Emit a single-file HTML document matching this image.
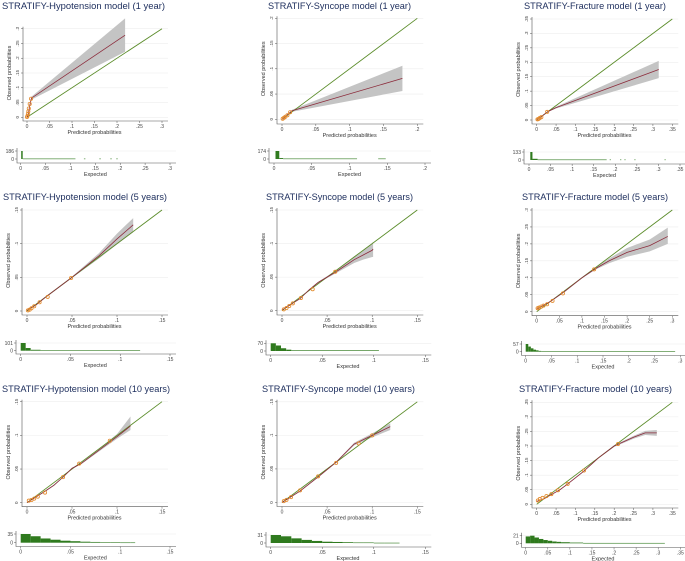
<!DOCTYPE html>
<html><head><meta charset="utf-8">
<style>
html,body{margin:0;padding:0;background:#fff;}
svg{display:block;font-family:"Liberation Sans",sans-serif;}
</style></head>
<body>
<svg id="fig" width="685" height="561" viewBox="0 0 685 561" xmlns="http://www.w3.org/2000/svg"></svg>
<script>
// ---------- DATA ----------
// Panel 1: Hypotension 1 year
const p1ObsX=[0,0.003,0.006,0.01,0.218];
const p1ObsY=[0,0.01,0.04,0.065,0.278];
const p1CiLo=[0,0.008,0.036,0.06,0.222];
const p1CiHi=[0,0.012,0.044,0.07,0.335];
const p1PtX=[0,0.001,0.002,0.003,0.004,0.006,0.009];
const p1PtY=[0.001,0.005,0.012,0.02,0.03,0.045,0.063];
const p1HistStart=[0.001,0.004,0.127,0.158,0.18,0.192];
const p1HistEnd=[0.004,0.11,0.13,0.161,0.183,0.195];
const p1HistCount=[186,10,10,10,10,10];
// Panel 2: Syncope 1 year
const p2ObsX=[0,0.015,0.178];
const p2ObsY=[0,0.017,0.081];
const p2CiLo=[0,0.015,0.056];
const p2CiHi=[0,0.019,0.106];
const p2PtX=[0.001,0.003,0.005,0.008,0.012];
const p2PtY=[0.001,0.003,0.005,0.008,0.014];
const p2HistStart=[0.002,0.007,0.012,0.138];
const p2HistEnd=[0.007,0.012,0.11,0.148];
const p2HistCount=[174,20,10,10];
// Panel 3: Fracture 1 year
const p3ObsX=[0,0.03,0.05,0.315];
const p3ObsY=[0,0.03,0.043,0.175];
const p3CiLo=[0,0.028,0.04,0.145];
const p3CiHi=[0,0.032,0.046,0.205];
const p3PtX=[0.002,0.005,0.008,0.012,0.027];
const p3PtY=[0.002,0.004,0.007,0.01,0.028];
const p3HistStart=[0.003,0.008,0.02,0.187,0.211,0.221,0.244,0.314];
const p3HistEnd=[0.008,0.02,0.18,0.19,0.214,0.224,0.247,0.317];
const p3HistCount=[133,20,8,8,8,8,8,8];
// Panel 4: Hypotension 5 years
const p4ObsX=[0,0.01,0.02,0.05,0.08,0.1,0.118];
const p4ObsY=[0.001,0.009,0.02,0.05,0.082,0.107,0.128];
const p4CiLo=[0.001,0.008,0.019,0.049,0.078,0.099,0.117];
const p4CiHi=[0.001,0.01,0.021,0.051,0.086,0.115,0.138];
const p4PtX=[0.001,0.003,0.005,0.008,0.014,0.023,0.049];
const p4PtY=[0.001,0.002,0.004,0.007,0.013,0.021,0.049];
const p4HistStart=[0,0.005,0.01,0.02];
const p4HistEnd=[0.005,0.01,0.02,0.12];
const p4HistCount=[101,35,12,6];
// Panel 5: Syncope 5 years
const p5ObsX=[0,0.02,0.03,0.04,0.06,0.08,0.09,0.1,0.101];
const p5ObsY=[0.001,0.018,0.031,0.042,0.058,0.076,0.083,0.09,0.092];
const p5CiLo=[0.001,0.017,0.03,0.041,0.056,0.071,0.076,0.08,0.08];
const p5CiHi=[0.001,0.019,0.032,0.043,0.06,0.081,0.09,0.1,0.103];
const p5PtX=[0.002,0.005,0.008,0.012,0.021,0.034,0.059];
const p5PtY=[0.002,0.004,0.007,0.011,0.019,0.032,0.058];
const p5HistStart=[0,0.005,0.01,0.015,0.02];
const p5HistEnd=[0.005,0.01,0.015,0.02,0.105];
const p5HistCount=[70,50,25,12,6];
// Panel 6: Fracture 5 years
const p6ObsX=[0,0.03,0.06,0.1,0.13,0.16,0.2,0.25,0.29];
const p6ObsY=[0.008,0.03,0.058,0.1,0.127,0.15,0.175,0.195,0.222];
const p6CiLo=[0.007,0.029,0.056,0.098,0.124,0.143,0.162,0.178,0.2];
const p6CiHi=[0.009,0.031,0.06,0.102,0.13,0.157,0.188,0.213,0.248];
const p6PtX=[0.002,0.005,0.01,0.015,0.023,0.035,0.058,0.127];
const p6PtY=[0.01,0.012,0.015,0.018,0.022,0.032,0.054,0.125];
const p6HistStart=[0,0.005,0.01,0.015,0.02,0.025,0.03];
const p6HistEnd=[0.005,0.01,0.015,0.02,0.025,0.03,0.29];
const p6HistCount=[57,38,25,15,10,6,3];
// Panel 7: Hypotension 10 years
const p7ObsX=[0,0.02,0.03,0.04,0.05,0.06,0.08,0.1,0.115];
const p7ObsY=[0,0.017,0.026,0.038,0.051,0.058,0.078,0.098,0.114];
const p7CiLo=[0,0.016,0.025,0.037,0.05,0.057,0.076,0.095,0.108];
const p7CiHi=[0,0.018,0.027,0.039,0.052,0.059,0.08,0.102,0.128];
const p7PtX=[0.002,0.005,0.008,0.012,0.02,0.04,0.058,0.092];
const p7PtY=[0.003,0.004,0.006,0.009,0.015,0.038,0.058,0.092];
const p7HistStart=[0,0.01,0.02,0.03,0.04,0.05,0.06,0.07,0.08,0.09,0.1,0.11];
const p7HistEnd=[0.01,0.02,0.03,0.04,0.05,0.06,0.07,0.08,0.09,0.1,0.11,0.115];
const p7HistCount=[35,26,17,12,8,6,4,3,2,2,1,1];
// Panel 8: Syncope 10 years
const p8ObsX=[0,0.02,0.04,0.06,0.08,0.1,0.12];
const p8ObsY=[0,0.017,0.038,0.06,0.087,0.1,0.113];
const p8CiLo=[0,0.016,0.037,0.059,0.085,0.097,0.108];
const p8CiHi=[0,0.018,0.039,0.061,0.089,0.103,0.118];
const p8PtX=[0.002,0.005,0.01,0.02,0.04,0.06,0.085,0.1];
const p8PtY=[0.002,0.004,0.008,0.018,0.039,0.059,0.088,0.1];
const p8HistStart=[0,0.01,0.02,0.03,0.04,0.05,0.06,0.07,0.08,0.09,0.1,0.11];
const p8HistEnd=[0.01,0.02,0.03,0.04,0.05,0.06,0.07,0.08,0.09,0.1,0.11,0.125];
const p8HistCount=[31,26,18,12,8,5,4,3,2,2,1,1];
// Panel 9: Fracture 10 years
const p9ObsX=[0,0.02,0.04,0.06,0.08,0.12,0.16,0.2,0.25,0.28,0.31];
const p9ObsY=[0.01,0.02,0.035,0.05,0.07,0.112,0.16,0.2,0.23,0.245,0.245];
const p9CiLo=[0.009,0.019,0.034,0.049,0.068,0.11,0.158,0.197,0.225,0.238,0.235];
const p9CiHi=[0.011,0.021,0.036,0.051,0.072,0.114,0.162,0.203,0.235,0.252,0.255];
const p9PtX=[0.003,0.008,0.015,0.025,0.038,0.055,0.08,0.122,0.21];
const p9PtY=[0.013,0.018,0.022,0.028,0.035,0.048,0.07,0.116,0.207];
const p9HistStart=[0,0.01,0.02,0.03,0.04,0.05,0.06,0.07,0.08,0.1,0.13];
const p9HistEnd=[0.01,0.02,0.03,0.04,0.05,0.06,0.07,0.08,0.1,0.13,0.315];
const p9HistCount=[19,21,16,12,9,7,5,4,3,2,1];

const titles=["STRATIFY-Hypotension model (1 year)","STRATIFY-Syncope model (1 year)","STRATIFY-Fracture model (1 year)",
"STRATIFY-Hypotension model (5 years)","STRATIFY-Syncope model (5 years)","STRATIFY-Fracture model (5 years)",
"STRATIFY-Hypotension model (10 years)","STRATIFY-Syncope model (10 years)","STRATIFY-Fracture model (10 years)"];
const axisMax=[0.3,0.2,0.35,0.15,0.15,0.3,0.15,0.15,0.35];
const histMaxLabel=[186,174,133,101,70,57,35,31,21];

// ---------- LAYOUT (pixels) ----------
const G=[
{x0:27,x1:162,y0:117.3,y1:28.7,yax:23,xax:121,hx0:20.7,hx1:170,hb:159,ht:151,hyax:17,hax:163,tx:2,tw:163,ty:9},
{x0:282,x1:417.3,y0:119.3,y1:18.3,yax:277,xax:124,hx0:274,hx1:425,hb:159,ht:151,hyax:269,hax:163,tx:268,tw:143,ty:9},
{x0:536.7,x1:672.3,y0:120,y1:19,yax:532,xax:124,hx0:529,hx1:680,hb:160,ht:152,hyax:524,hax:164,tx:524,tw:142,ty:9},
{x0:27,x1:162,y0:311,y1:210,yax:22,xax:315,hx0:20.7,hx1:170,hb:350.7,ht:343,hyax:16,hax:354,tx:3,tw:164,ty:200},
{x0:282,x1:417.3,y0:310.7,y1:210,yax:277,xax:315,hx0:270.7,hx1:425.3,hb:351,ht:343.3,hyax:266,hax:355,tx:266,tw:147,ty:200},
{x0:536.7,x1:672.3,y0:311.7,y1:210,yax:532,xax:315.7,hx0:525.7,hx1:680.3,hb:351.7,ht:344,hyax:521.7,hax:355.5,tx:522,tw:146,ty:200},
{x0:27,x1:162,y0:502.7,y1:401.7,yax:22,xax:506.7,hx0:20.7,hx1:170,hb:542.7,ht:534,hyax:16,hax:546.5,tx:2,tw:168,ty:392},
{x0:282,x1:417.3,y0:502.5,y1:401.8,yax:277,xax:506.5,hx0:270.7,hx1:425.3,hb:543,ht:535,hyax:266,hax:547,tx:262,tw:153,ty:392},
{x0:536.7,x1:672.3,y0:504.3,y1:402.3,yax:532,xax:508,hx0:525.7,hx1:680.3,hb:543.3,ht:535.7,hyax:521.7,hax:547.5,tx:519,tw:153,ty:392}
];
const DATA=[
[p1ObsX,p1ObsY,p1CiLo,p1CiHi,p1PtX,p1PtY,p1HistStart,p1HistEnd,p1HistCount],
[p2ObsX,p2ObsY,p2CiLo,p2CiHi,p2PtX,p2PtY,p2HistStart,p2HistEnd,p2HistCount],
[p3ObsX,p3ObsY,p3CiLo,p3CiHi,p3PtX,p3PtY,p3HistStart,p3HistEnd,p3HistCount],
[p4ObsX,p4ObsY,p4CiLo,p4CiHi,p4PtX,p4PtY,p4HistStart,p4HistEnd,p4HistCount],
[p5ObsX,p5ObsY,p5CiLo,p5CiHi,p5PtX,p5PtY,p5HistStart,p5HistEnd,p5HistCount],
[p6ObsX,p6ObsY,p6CiLo,p6CiHi,p6PtX,p6PtY,p6HistStart,p6HistEnd,p6HistCount],
[p7ObsX,p7ObsY,p7CiLo,p7CiHi,p7PtX,p7PtY,p7HistStart,p7HistEnd,p7HistCount],
[p8ObsX,p8ObsY,p8CiLo,p8CiHi,p8PtX,p8PtY,p8HistStart,p8HistEnd,p8HistCount],
[p9ObsX,p9ObsY,p9CiLo,p9CiHi,p9PtX,p9PtY,p9HistStart,p9HistEnd,p9HistCount]
];

const NS="http://www.w3.org/2000/svg";
const svg=document.getElementById('fig');
function mk(tag,attrs,parent){const e=document.createElementNS(NS,tag);for(const k in attrs)e.setAttribute(k,attrs[k]);parent.appendChild(e);return e;}
function fmt(v){v=Math.round(v*1000)/1000;if(v===0)return "0";return String(v).replace(/^0/,"");}

for(let i=0;i<9;i++){
  const g=G[i],d=DATA[i],mx=axisMax[i];
  const sx=v=>g.x0+(g.x1-g.x0)*v/mx;
  const sy=v=>g.y0+(g.y1-g.y0)*v/mx;
  const hx=v=>g.hx0+(g.hx1-g.hx0)*v/mx;
  const hy=c=>g.hb+(g.ht-g.hb)*c/histMaxLabel[i];
  const P=mk('g',{},svg);
  
  
  const t=mk('text',{x:g.tx,y:g.ty,'font-size':9.5,fill:'#1c2d5c',textLength:g.tw,lengthAdjust:'spacingAndGlyphs'},P);
  t.textContent=titles[i];
  
  
  const ticks=[];for(let v=0;v<=mx+1e-9;v+=0.05)ticks.push(v);
  // gridlines + y ticks
  ticks.forEach(v=>{
    const y=sy(v);
    const gl=mk('line',{x1:g.yax,x2:g.x1+6,y1:y,y2:y,stroke:'#eeeeee','stroke-width':0.6},P);
    
    
    mk('line',{x1:g.yax-2,x2:g.yax,y1:y,y2:y,stroke:'#555','stroke-width':0.5},P);
    const yl=mk('text',{x:0,y:0,'font-size':4.5,fill:'#444','text-anchor':'middle',transform:`translate(${g.yax-4},${y}) rotate(-90)`},P);
    yl.textContent=fmt(v);
    
    
  });
  // x ticks
  ticks.forEach(v=>{
    const x=sx(v);
    mk('line',{x1:x,x2:x,y1:g.xax,y2:g.xax+2,stroke:'#555','stroke-width':0.5},P);
    const xl=mk('text',{x:x,y:g.xax+7,'font-size':5,fill:'#444','text-anchor':'middle'},P);
    xl.textContent=fmt(v);
    
    
  });
  const ax=mk('path',{d:`M${g.yax},${sy(mx)-2}V${g.xax}H${g.x1+6}`,fill:'none',stroke:'#555','stroke-width':0.6},P);
  
  
  const xt=mk('text',{x:(g.x0+g.x1)/2,y:g.xax+13,'font-size':5.5,fill:'#333','text-anchor':'middle'},P);
  xt.textContent='Predicted probabilities';
  
  
  const yt=mk('text',{x:0,y:0,'font-size':5.5,fill:'#333','text-anchor':'middle',transform:`translate(${g.yax-12},${(g.y0+sy(mx))/2}) rotate(-90)`},P);
  yt.textContent='Observed probabilities';
  
  
  // CI band
  const [ox,oy,lo,hi,px,py,hs,he,hc]=d;
  let band='M'+ox.map((x,k)=>sx(x)+','+sy(hi[k])).join('L');
  for(let k=ox.length-1;k>=0;k--)band+='L'+sx(ox[k])+','+sy(lo[k]);
  const b=mk('path',{d:band+'Z',fill:'#c4c4c4',stroke:'none'},P);
  
  
  // reference diagonal
  const dg=mk('line',{x1:sx(0),y1:sy(0),x2:sx(mx),y2:sy(mx),stroke:'#5b8c2a','stroke-width':0.9},P);
  
  
  // observed curve
  const oc=mk('polyline',{points:ox.map((x,k)=>sx(x)+','+sy(oy[k])).join(' '),fill:'none',stroke:'#8c2c3c','stroke-width':0.8},P);
  
  
  // grouped points
  px.forEach((x,k)=>{
    const c=mk('circle',{cx:sx(x),cy:sy(py[k]),r:1.6,fill:'none',stroke:'#e38a2c','stroke-width':0.8},P);
    
    
  });
  // histogram
  const hg=mk('line',{x1:g.hyax,x2:g.hx1+6,y1:g.ht,y2:g.ht,stroke:'#eeeeee','stroke-width':0.6},P);
  hs.forEach((s,k)=>{
    const y=hy(hc[k]);
    const r=mk('rect',{x:hx(s),y:y,width:Math.max(0.6,hx(he[k])-hx(s)),height:Math.max(0.6,g.hb-y),fill:'#2f7a1e'},P);
    
    
  });
  const ha=mk('path',{d:`M${g.hyax},${g.ht-3}V${g.hax}H${g.hx1+6}`,fill:'none',stroke:'#555','stroke-width':0.6},P);
  
  
  [[histMaxLabel[i],g.ht],[0,g.hb]].forEach(([lab,y])=>{
    mk('line',{x1:g.hyax-2,x2:g.hyax,y1:y,y2:y,stroke:'#555','stroke-width':0.5},P);
    const l=mk('text',{x:g.hyax-3,y:y+1.8,'font-size':5,fill:'#444','text-anchor':'end'},P);
    l.textContent=String(lab);
    
    
  });
  ticks.forEach(v=>{
    const x=hx(v);
    mk('line',{x1:x,x2:x,y1:g.hax,y2:g.hax+2,stroke:'#555','stroke-width':0.5},P);
    const l=mk('text',{x:x,y:g.hax+7,'font-size':5,fill:'#444','text-anchor':'middle'},P);
    l.textContent=fmt(v);
    
    
  });
  const ex=mk('text',{x:(g.hx0+g.hx1)/2,y:g.hax+13,'font-size':5.5,fill:'#333','text-anchor':'middle'},P);
  ex.textContent='Expected';
  
  
}
</script>
</body></html>
